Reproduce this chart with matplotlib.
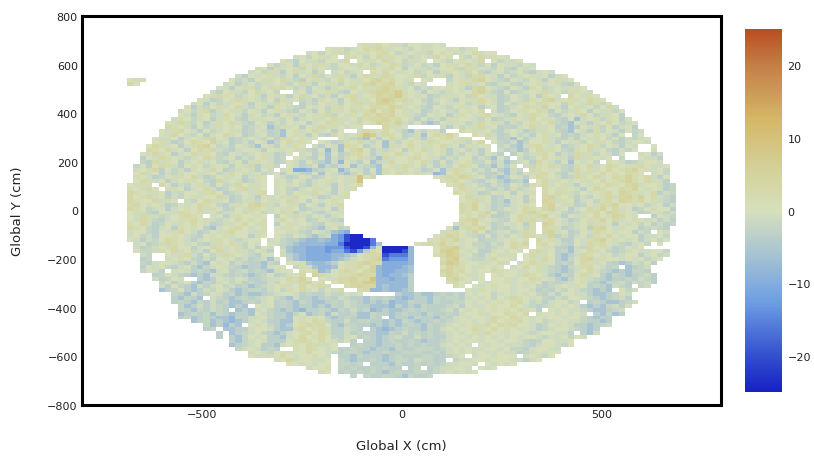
import numpy as np
import matplotlib
matplotlib.use("Agg")
import matplotlib.pyplot as plt
from matplotlib.colors import LinearSegmentedColormap

# value of each letter used in the rows below, '.' means empty bin
levels = dict(a=-24, b=-20, c=-16, d=-13, e=-10, f=-8, g=-6, h=-3.5, i=-2.2, j=-1,
              k=0.5, l=2, m=3.5, n=5, o=7, p=9, q=12, r=16)

x_edges = np.arange(-688, 689, 16)
y_edges = np.arange(688, -689, -16)

x_ticks = [-500, 0, 500]
y_ticks = [-800, -600, -400, -200, 0, 200, 400, 600, 800]
cbar_ticks = [-20, -10, 0, 10, 20]

cmap_values = [-25, -20, -12.5, -6, 0, 6, 12.5, 20, 25]
cmap_colors = ['#1620c4', '#3450cf', '#6f9fe3', '#a8c4d2', '#d6e0bc',
               '#d4d098', '#d4b868', '#c47f48', '#b94e22']

rows = [
".......... .......... .......... ......kljm kljikkjjkj",
".......... .......... .......... .kjlijkmlm ljkjikjlkk jkijk",
".......... .......... ........jk ikljmkjlkl mkijkjjikl kjlkmjkk",
".......... .......... ......jkik ljk.jlkikm jlkjijkjmk l.jikmjlkj",
".......... .......... ....kjhkjl ikkjm.kjlk mjkiljk.kj iklkjm.kij jk",
".......... .......... ..kijkhlkj ljikkjmkij kmlijkijhk ljkmjikhkj jikj",
".......... .......... jkhljkjikm kjilkkjlmk jmkhkjlijk kmijlkjiki hkjk",
".......... .........j kiljhkmjkh l.jkijk.lk mkjlkijkhj lkjmkihjki jkihjkj",
".......... .......jhk jkljikhkjm ikjljhkmlj mlkkjmikjl hkjilmkjhk ijkljkhjk",
".......... ......kijh kljkmjihkl jikmkjlkmn lmkjl.kj.. ikljmnkjih kjikjhkljk".replace("..", "k.", 1).replace("..", "jl", 1),
".......... .....jkhjk ijlkjikmjh kljikljmnl mnkji.kl.. jklmjkihjk ihjkljkjih k".replace("..", "mk", 1).replace(".kl", "kj.", 1),
".......... ....kjhkjl ikjlmkijhk jhlkjmkljm nmljkhjikk lkjhmnkjih kjhlkijkjl jk",
".......... ...jhkljik mjk i..jkhj".replace(" i", "i ", 1) + " kljihkjlmn nmolkjhkji jklkmnjihk hijklmjkij lkj",
".......... ..kjmlkijk jhkljhkmjk ijhklmjkln mnolkjkhij ljkimkjlhi kjikhlkj.m kjlk",
".......... .kjhikjmlk jikhljkijh lkjhkmjlkn onlmjkihjk jhkljmkjhi kjilkmnjkl jkmlk",
".......... jkhkijlkjh kljmkj.hji kljhklmjln nmkjlkjhik jlkijmkjhk ijlkmjkkil kjmlik",
".........k hjikljkmji kjhlkjihkj kilmkjlkmm lnmjkjihkj ikljkhjkhi jkmljnkjhk ljkikmj",
"........jk ilmhjkljik jhkljihkjh kiljkmjlnk mnkljkhijk jiklkm.jhi kjlkmjhkij lkhkjjik",
"........kj hlkijmkjhl kijhkljikj lmikjlkmln mnkljihkjk hjlkjlmkji hkjmlkihjk jmkijlkh",
".......jlk ijkhjlkihj jlkjikhjkl jkmljkilmm nlmkjhkijh ljkkjikhij lkjmkljihk gjklijkhk",
"......kjml ikhjlkmjih kjhlikjkhj kmljkjmkln mlnjikhghk jlkijmkljh jikljkmihg kjhjkmkijk",
"......mlkj hkijlkjkhi jkgiljkhkj mjlkjkk... mljk.....j hkijlmjkhi hjkmljkhig hkjlikhjkh",
".....kjlmk jhkijkljhi kjhigkljkm jkhk..jmlk mkjhgjikjh ..mkljkihj kjhijlkihg kjhlikjhki j",
".....kjmkj ikhlkmjkhi jkhigkljhk ihmkjkmpoj mlkhijgkml nk..lkmjhi kijhkljkhi hjklkjh.ki k".replace("jh.ki", "jhk.i", 1),
"....kjlkhj klmikjhijk jikhmjkljk ...kjihgkh kmjiklhjkl mkjl..jkhi gkhjkljihj hkjlkikhji jk",
"....kljhik mlknjkhijh kjgikmjlk. kjhilkmjik gjiklkjmlk kjlikm.kih jgikkljhkj likjlkihjk kj",
"...kmljkhj lmnkijhkji gkjhkjlk.j hkjgmlkhjk gljkmkjlkm jkhljkk.ij hgjlmkjkhi jkmlikjhkj ..k",
"...mlkmjkh kmlmjihjkk jhkljkljih kfjgkmnkhj ijkhlkmjkl hjkijhk.jh ighkmjlkih lkmjkihjik ..l",
"..kjmlkhjk mjlkihkjij kljhik.jkh jgkhilmkhj lkmjklkjkl hjikjhkj.. hkijlmkhji mljikjhk.. jkhj".replace("hkj.. ", "hk.j. ", 1).replace("k.j. ", "kjh. ", 1),
"..hkjmlkji jkmlijkhji kljhi.kjih kgjhlkmjig mjkklmkljh jikkhjigkh .jhikmkljh mjlkjk.i.. kjjh",
"..ihmjlkhj kljkihjkhj lkjhikjhki hgjfkjhkgi jmkklkmjhk hjkliikhjg ijkhmkjhkg kjki.lkjhi jkkj",
".ikhkmljhk jkijklhkjm hjli.kjhik gihjkgjihg kljmjkikhj ikmlkhigjh k.jilkmjih lkmjkmlkjl mkjjk",
".jklmhkijh lkjmkhijkj hkj.jkeefh ijkfhkjhkg lkjmkjhikg jmlkijhkhg ji.mlkjkih mkljkmklmn kljki",
".kmjkhjilk kjlkijmklj kijkhkjihk gkjhgikhjg lkmjkljkfg kmljkihhjg jhkjlmkihj mjlkmklkml k.jki",
".lkjhikjlk mjhikljkhj lk.kjhikjh ikjkjlpkm. ........kj mlnmjkhigh kjhkmlkjhi mlkmjkmlnl kmjhk",
".kmljkhjkl jkihmjkjhi lk.jkikjhj kljkjlp... .........k lmkjihjkhg hig.kmjlkj kjlkmklmnl kmljh",
"kjlj.mkhji kljhkijmkl jk.lkjkihj kjhkjkl... .......... klmjkihjih kjhlkmjklj hkjlkmlkmn jkklhi",
"lkjmk.jlkh jkmjhiklmj lk.jkihjkl jkhkjl.... .......... .kmljkihjh lijk.mkjlk jhkmlkkmln klkjhi",
"mlkjlkhjik kjlmkhijkj lm.jkikljm kjhkl..... .......... .mkljhikjk hkjl.mkmlj ikjklmknml jkmhji",
"mklmjkhjik ljkkmjhikj hkjkljmkkj hikjl..... .......... ..kmjlkhik jkhk.mnjkl hjiklmjmnl nkmjih",
"mlkkmj.k.j ikmljkhijl ikljkmjkhk jklk...... .......... ..klmjkhig jkhl.nmjlk hjkilmknml mkljih".replace("mlkkmj.k.j", "mlkkmjlk.j", 1),
"lmkjkjhikj kmlkihjlkm nljikjlhkj hkjm...... .......... ..mlnkjhih jklk.mnkjl hikjmlnkkj kijkhj",
"mlkijkhjkl kmjlkhikjm lkjkjlkhij jkhl...... .......... ..mlnkjhik jkmlkmnjkh jkmlnkmjkh ikjkkh",
"kljihkjjml kmjkijlkmj kijkmlhjki hjkj...... .......... ..mlkjnkhi jkmnlkjkih ijlmknmjkj hikjij",
"kjmljijklm lk..jkhjlk lk.hkjmjik jhjk...... .......... ..klkmjhhi kmljmnkjhk jlkmkjnmkj ..hkji".replace("lk..jkhjlk", "lk.jkhjlkk", 1),
"kjmlihjkjl mkljijkmkl kl.jmkjkhi kjih...... .......... ..lmnjkjih kmlmjlmkjh ikjlnkmjkl kjkhjh",
"lkmjhikjlk mkjhiljkmk jl.hkljkji hklj...... .......... .kmlnkjhik jkhl.nmkji jkmljkhkjk ikhjhi",
"mlkihjkhlk jkhgjklmkj kl.kjlkjih gjkh...... .......... ".replace("gjkh......", "gjkhi.....", 1) + "kgjmlnkhih jkil.mljhi jkhmnkjlkk hijih",
"jkkihkjlmk jhikjlmkkj jl.kkjjihk jigfe..... .........j lmkjnkhijk ijml.mnjkh ikjmlkjkkh ji.kj",
"jkijhkklkj ihkjkljkkh lk.kjikjhg ijedbaa... ........kl nmkjihkhji kjmlkjnhjh jkilkmkjkk hjjki",
"kjhjikmlkj hjkllkjijk k.jkihhgff gfedbaaac. .......jkm lnjkkhiijk lkj.mkljhh kjlmnkjkjk hjkik",
".jkhijmlkj kihjlkmjik j.kjihgfff feecaaaacg .....kjmln lkjkiihjik mln.lmkjih kjmlmkjihj ki.k",
".jhilkjmkk hjkmljkjik hkj.igffee edddbaabfk aaaaf...km nolkjihijk mlk.kljhhg jimkljhik j".replace("jhik j", "jhikj k".replace(" ", ""), 1),
".kiijlkmjk ijhkmjklji kjh.jgffee edeecbdhmk aaabf...kn onkjkhhlkj kj.lmjkhig jkmlkihijk jjkki",
"..ji..kjlm jhkijmlkji hkk.jhgfee eeffghklmm bcccf...lm onjkihjkjl l.kmjlkhgh jmlkjkijkk hjkij",
"..hi..jklk ihjhkjkijh ijgk.igfee eefghjklmn cdddf....l nokjiijmkk j.kljmkhgi kmnjlkkjkj kijk",
"..ihjkkjih jhgkjkhjih hgih.kkjgf fghkjlmnml eeeef....m onlkkjlkmj .jkmljkhih kmljkihghj ikh",
"..hkjkihjk hgijkjihgh hgjkk.iljg ffgkllmknf eeefg....k nmlkjlkj.k jkmkljihgi jlmkjhi.gh ij".replace("nmlkjlkj.k jkmk", "nmlkjlkjk. jkmk", 1),
"..ikjh.jkj hihgjkhijh ihgjkk.lkm fgklmlkmnf eeffg....m nlmkjkkml. kjjkljihgh jkmjihg.hi jh".replace("nlmkjkkml. ", "nlmkjkkmlk ", 1).replace("ihg.hi jh", "ihghgi ih", 1),
"....hikjih ghgjjihihg hikhijkm.n mjkllmnmlf effgh....l nmkljk.kjk kjmlkjhgih kmjkhghigh ijh".replace("kmjkhghigh", "kmjkhgihgh", 1).replace("kjk kjml", "kjk kjml", 1),
"....jhik.. hghkjikjih hijjkmln.. kljmmnlmpf feffh..... mnlkjk.kkl jkkmlkjhgi kljihghhih jih".replace("jhik..", "jhikj.", 1).replace("hghkjikjih", ".hghkjikjh", 1).replace("kmln..", "kmlnk.", 1),
".....ikhjk hgihjkijhi hhjikljmnk l.kmlnmoof ffffh..... lmkj.kjkkl jkljkhihij kjihgiijhj ijh",
".....jhkih gjhjkijhig hijkljkmkl mj..lmnmmf gfffh..... .lk.kjklkk jkjkihijkj lkhihgjih. ij",
".....ghikh ghjikjhghi ihjkilkmjk ikjm..lmff gffgh..... ...kjlkjkk jkkjhihjik jihghg.kij",
".......ihg jhikjhigh ghijkkjhih hjiikjk... ..hgghgghi hihkjkkijk jkjkihjhkk jjhgghikj".replace("jhikjhigh ", "jhikjhighg ", 1),
".......hgi hg.jihghih ijkihgjhhg hihjihhgih ihgfghhgih iihjkjkikj mlkjkihjik kjihghijh",
".......hih gihjhigghi hjkhihgihg ghihjihghg hfggihhgih hiikjkjklk lmkijhjkki j.hihgghij",
"........ig hjhjihghg. kjkhihghhg hgihjihhgg gfhghgihhh ijhkjjklkk mkjihijkjk jhghgijhk",
"........ih gihjih.ghg jkihghgfhh ihgihjhifg hgghihihhi jhkjkjklkl kmjkh.kjkj jihgghij",
"........gh ihigihghhg kjihhgikgh igjhhiggih hghihhgihh ihjkkljkkm lkm.jkkjkj kj.higgh".replace("kj.higgh", "kj.hgigh", 1),
"........hi ghihggfhhj jkihhgkjkl khghihggih .ghhgihhgi hjkjkkjmlk mlkjkjkkjk kihghh",
".......... ghighgfghj kjhhggklkm lihhjhiihh ghgihghhih ijkkjkjmkl lmkjkijkkj jihhgh",
".......... ..ighfhg.k jkihghklml mkhgiihhgh ghghihgihi jkjkljmkml mkkjhikjkj hhghij",
".......... ..hi.gghhj kkjhgglmkl mjhhjih.hg fghihhgihj kjkkmlkmkl kjkjhijkkj ihgh",
".......... ....h.ghij kihghjklmk mlhhjhihhg gihjhihihi jkjkljmkkj kkjijkkjjh .hgj",
".......... ....h.hgik jkhhgjkmkl mkihjkhihg hijhhjhihh jkkjkjkjkj kjkkjijjki kj",
".......... ......hgij kjhhhklmlk mkjikh.hhg hihhihghhi jkjkkjkkjk kjihikkjjk",
".......... ......ghij khhgjklkml jjk..hihhg hhihihihhj kj.jkjkkjk jjihjkkjik".replace("kj.jkjkkjk", "kjkj.kjkkj", 1),
".......... .......ijk jhih..lkml kjkhhihhgh hgihhiiihi jkjkjjkkjk iihjkkjj",
".......... .........j kjikljkkmk kjihiihghh ihhiiihhih jkjkjkjjkj jhijkjkk",
".......... .........k jjlkmkjkkl kj.hhgihhh ghihhhiihh ijk.jkkjkk k.jkjik",
".......... .......... ...jkmjkkj jk.ihghhih ghiihjiihh .ijjkkjkkk jjhjk",
".......... .......... .....kkjkj kk.iihi.hh hgihhihihi jjkkj.kjkj k",
".......... .......... ........jk kl.ihihhih ihh.hi.hij jkkj.kjk",
".......... .......... .......... jk.hihihih ghihhiihij kjkjk",
".......... .......... .......... .....i.ihh iihgihhi",
]


def decode_rows(rows, n_cols):
    grid = np.full((len(rows), n_cols), np.nan)
    for r, row in enumerate(rows):
        for c, ch in enumerate(row.replace(" ", "")[:n_cols]):
            if ch != ".":
                grid[r, c] = levels[ch]
    return grid


values = decode_rows(rows, len(x_edges) - 1)

anchors = [(v + 25) / 50 for v in cmap_values]
cmap = LinearSegmentedColormap.from_list("div", list(zip(anchors, cmap_colors)))

fig = plt.figure(figsize=(8.14, 4.6), dpi=100)
ax = fig.add_axes([82 / 814, 54 / 460, 639 / 814, 389 / 460])
mesh = ax.pcolormesh(x_edges, y_edges, values, cmap=cmap, vmin=-25, vmax=25,
                     linewidth=0, rasterized=True)
ax.set_xlim(-800, 800)
ax.set_ylim(-800, 800)
ax.set_xticks(x_ticks)
ax.set_yticks(y_ticks)
ax.tick_params(length=0, labelsize=8, pad=3, colors="#222222")
ax.set_xlabel("Global X (cm)", fontsize=9.5, labelpad=14, color="#222222")
ax.set_ylabel("Global Y (cm)", fontsize=9.5, labelpad=17, color="#222222")
for spine in ax.spines.values():
    spine.set_linewidth(2.2)

cax = fig.add_axes([745 / 814, 67 / 460, 37 / 814, 363 / 460])
cbar = fig.colorbar(mesh, cax=cax, ticks=cbar_ticks)
cbar.outline.set_visible(False)
cbar.ax.tick_params(length=0, labelsize=8, pad=4, colors="#222222")

plt.savefig("out.png", dpi=100)
